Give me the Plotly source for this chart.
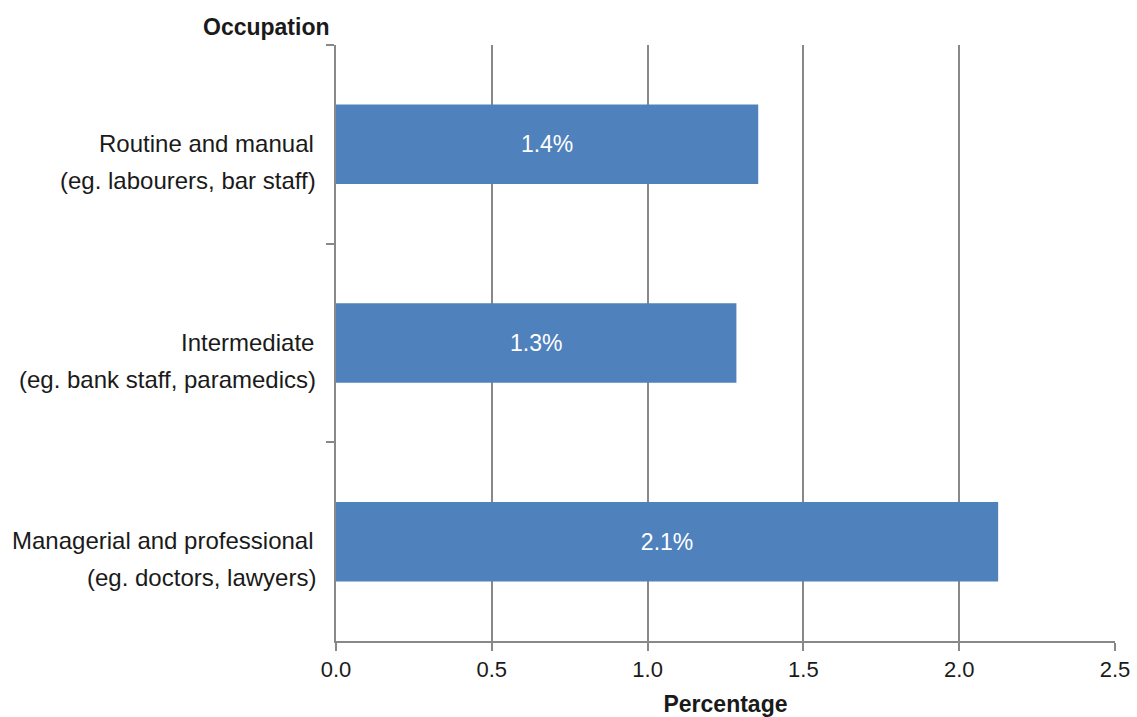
import plotly.graph_objects as go

occupations = [
    "Routine and manual",
    "Intermediate",
    "Managerial and professional",
]
examples = [
    "(eg. labourers, bar staff)",
    "(eg. bank staff, paramedics)",
    "(eg. doctors, lawyers)",
]
percentages = [1.355, 1.285, 2.125]
bar_labels = ["1.4%", "1.3%", "2.1%"]
x_ticks = [0.0, 0.5, 1.0, 1.5, 2.0, 2.5]

FONT = "Liberation Sans, Arial, sans-serif"
TEXT = "#1a1a1a"
AXIS_GREY = "#888888"

fig = go.Figure()

fig.add_trace(
    go.Bar(
        x=percentages,
        y=occupations,
        orientation="h",
        width=0.4,
        marker=dict(color="#4F81BD", line=dict(width=0)),
        text=bar_labels,
        textposition="inside",
        insidetextanchor="middle",
        textfont=dict(color="white", size=23, family=FONT),
        hoverinfo="skip",
    )
)

# two-line category labels, spaced like the original
annotations = []
for name, example in zip(occupations, examples):
    annotations.append(
        dict(
            text=name, xref="paper", x=0, y=name, yref="y",
            xanchor="right", yanchor="middle", xshift=-20, yshift=1,
            showarrow=False, font=dict(size=24, family=FONT, color=TEXT),
        )
    )
    annotations.append(
        dict(
            text=example, xref="paper", x=0, y=name, yref="y",
            xanchor="right", yanchor="middle", xshift=-18, yshift=-36,
            showarrow=False, font=dict(size=24, family=FONT, color=TEXT),
        )
    )

annotations.append(
    dict(
        text="<b>Occupation</b>",
        xref="paper",
        yref="paper",
        x=0,
        y=1,
        xanchor="right",
        yanchor="bottom",
        xshift=-4,
        yshift=3,
        showarrow=False,
        font=dict(size=23, family=FONT, color=TEXT),
    )
)

fig.update_layout(
    width=1137,
    height=717,
    margin=dict(l=336, r=22, t=45, b=76),
    plot_bgcolor="white",
    paper_bgcolor="white",
    showlegend=False,
    font=dict(family=FONT, size=22, color=TEXT),
    annotations=annotations,
)

fig.update_xaxes(
    range=[0, 2.5],
    tickvals=x_ticks,
    ticktext=[f"{v:.1f}" for v in x_ticks],
    tickfont=dict(size=22),
    automargin=False,
    showgrid=True,
    gridcolor=AXIS_GREY,
    gridwidth=1.5,
    zeroline=False,
    showline=True,
    linecolor=AXIS_GREY,
    linewidth=1.5,
    ticks="outside",
    ticklen=8,
    tickwidth=1.5,
    tickcolor=AXIS_GREY,
    title=dict(
        text="<b>Percentage</b>",
        font=dict(size=23, family=FONT, color=TEXT),
        standoff=17,
    ),
)

fig.update_yaxes(
    type="category",
    autorange="reversed",
    automargin=False,
    showgrid=False,
    showline=True,
    linecolor=AXIS_GREY,
    linewidth=1.5,
    ticks="outside",
    tickson="boundaries",
    ticklen=8,
    tickwidth=1.5,
    tickcolor=AXIS_GREY,
    showticklabels=False,
)

# drop the default body margin so the figure sits flush in the window
fig.write_html(
    "out.html",
    config={"displayModeBar": False},
    post_script="document.body.style.margin='0';",
)
